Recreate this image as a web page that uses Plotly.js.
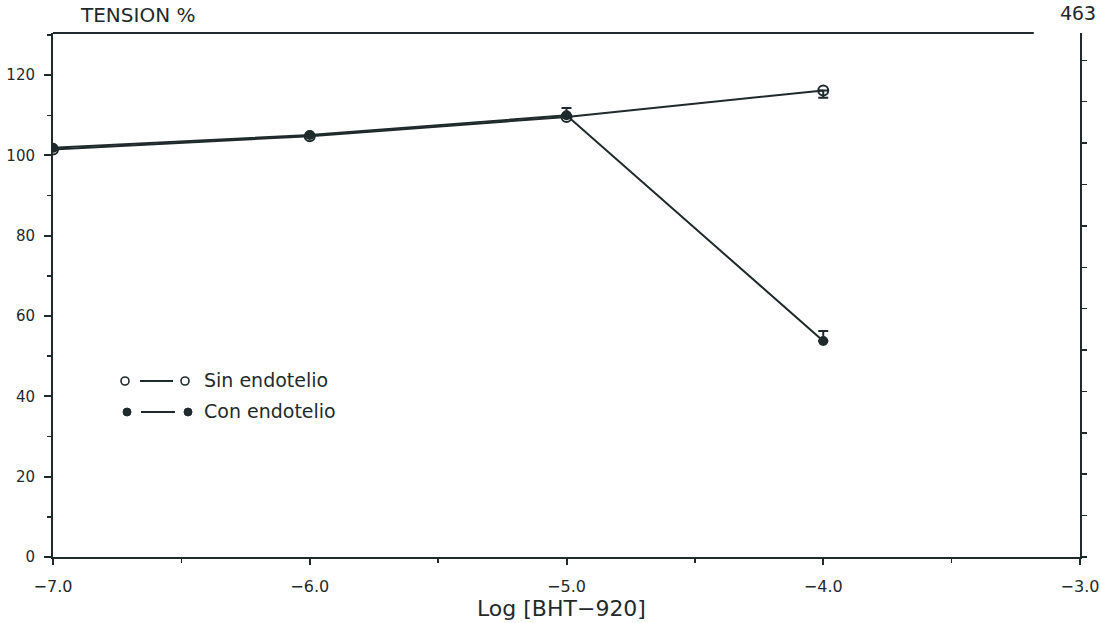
<!DOCTYPE html>
<html>
<head>
<meta charset="utf-8">
<script src="https://cdn.plot.ly/plotly-3.0.1.min.js"></script>
<style>html,body{margin:0;padding:0;background:#fff;}#chart{width:1100px;height:623px;}</style>
</head>
<body>
<div id="chart"></div>
<script>
// Data
const logDose = [-7, -6, -5, -4];
const sinEndotelio = [101.5, 104.8, 109.6, 116.2];
const sinErrMinus = [0, 0, 0, 1.8];
const conEndotelio = [101.9, 105.1, 110.0, 53.8];
const conErrPlus = [0, 0, 1.8, 2.5];
const xTickVals = [-7, -6, -5, -4, -3];
const yTickVals = [0, 20, 40, 60, 80, 100, 120];

const ink = '#1f2a2c';
const font = 'DejaVu Sans, sans-serif';

const traces = [
  {
    x: logDose, y: sinEndotelio, type: 'scatter', mode: 'lines+markers',
    name: 'Sin endotelio', showlegend: false,
    line: {color: ink, width: 2},
    marker: {symbol: 'circle-open', size: 10, color: ink, line: {width: 2, color: ink}},
    error_y: {type: 'data', symmetric: false, array: [0,0,0,0], arrayminus: sinErrMinus, color: ink, thickness: 2, width: 5}
  },
  {
    x: logDose, y: conEndotelio, type: 'scatter', mode: 'lines+markers',
    name: 'Con endotelio', showlegend: false,
    line: {color: ink, width: 2},
    marker: {symbol: 'circle', size: 10, color: ink},
    error_y: {type: 'data', symmetric: false, array: conErrPlus, arrayminus: [0,0,0,0], color: ink, thickness: 2, width: 5}
  },
  {
    x: [null], y: [null], yaxis: 'y2', type: 'scatter', showlegend: false, hoverinfo: 'skip'
  }
];

// legend helper (pixel-sized symbols anchored in paper coords)
function px2x(p){ return (p - 53) / 1027; }
function px2y(p){ return (557 - p) / 524; }
function circ(cx, cy, r, filled){
  return {type:'circle', xref:'paper', yref:'paper', xsizemode:'pixel', ysizemode:'pixel',
    xanchor: px2x(cx), yanchor: px2y(cy), x0:-r, x1:r, y0:-r, y1:r,
    line:{color:ink, width: filled ? 1 : 1.6}, fillcolor: filled ? ink : 'rgba(0,0,0,0)'};
}
function seg(xa, xb, y){
  return {type:'line', xref:'paper', yref:'paper', x0:px2x(xa), x1:px2x(xb), y0:px2y(y), y1:px2y(y),
    line:{color:ink, width:2}};
}

const layout = {
  width: 1100, height: 623,
  margin: {l: 53, r: 20, t: 33, b: 66},
  paper_bgcolor: '#fff', plot_bgcolor: '#fff',
  font: {family: font, color: ink, size: 15},
  xaxis: {
    range: [-7, -3], tickvals: xTickVals, tickformat: '.1f',
    showgrid: false, zeroline: false, showline: true, linecolor: ink, linewidth: 2,
    ticks: 'outside', ticklen: 6, tickwidth: 2, tickcolor: ink, ticklabelstandoff: 8,
    ticklabeloverflow: 'allow',
    minor: {dtick: 0.5, tick0: -7, ticks: 'outside', ticklen: 4, tickwidth: 1.5, tickcolor: ink},
    tickfont: {size: 16, family: font}
  },
  yaxis: {
    range: [0, 130.5], tickvals: yTickVals,
    showgrid: false, zeroline: false, showline: true, linecolor: ink, linewidth: 2,
    ticks: 'outside', ticklen: 7, tickwidth: 2, tickcolor: ink, ticklabelstandoff: 6,
    minor: {dtick: 10, tick0: 0, ticks: 'outside', ticklen: 4, tickwidth: 1.5, tickcolor: ink},
    tickfont: {size: 15, family: font}
  },
  yaxis2: {
    overlaying: 'y', side: 'right', anchor: 'x',
    domain: [0, 0.97], range: [0, 126.6], dtick: 10, tick0: 0,
    showgrid: false, zeroline: false, showline: true, linecolor: ink, linewidth: 2,
    ticks: 'outside', ticklen: 5, tickwidth: 1.5, tickcolor: ink, showticklabels: false
  },
  shapes: [
    {type:'line', xref:'paper', yref:'paper', x0:0, x1:0.955, y0:1, y1:1, line:{color:ink, width:1.8}},
    circ(125, 381, 4, false), seg(140, 173, 381), circ(185, 381, 4, false),
    circ(127, 412, 4, true), seg(141, 175, 412), circ(188, 412, 4, true)
  ],
  annotations: [
    {text: 'Sin endotelio', xref:'paper', yref:'paper', x: px2x(202), y: px2y(380), xanchor:'left', yanchor:'middle', showarrow:false, font:{size:19, family:font, color:ink}},
    {text: 'Con endotelio', xref:'paper', yref:'paper', x: px2x(202), y: px2y(411), xanchor:'left', yanchor:'middle', showarrow:false, font:{size:19, family:font, color:ink}},
    {text: 'TENSION %', xref:'paper', yref:'paper', x: px2x(78), y: 1, yshift: 4, xanchor:'left', yanchor:'bottom', showarrow:false, font:{size:20, family:font, color:ink}},
    {text: '463', xref:'paper', yref:'paper', x: px2x(1098), y: 1, yshift: 6, xanchor:'right', yanchor:'bottom', showarrow:false, font:{size:20, family:'DejaVu Sans Mono, monospace', color:ink}},
    {text: 'Log [BHT\u2212920]', xref:'paper', yref:'paper', x: px2x(561), y: px2y(608), xanchor:'center', yanchor:'middle', showarrow:false, font:{size:22, family:font, color:ink}}
  ],
  showlegend: false
};

Plotly.newPlot('chart', traces, layout, {displayModeBar: false, staticPlot: true});
</script>
</body>
</html>
